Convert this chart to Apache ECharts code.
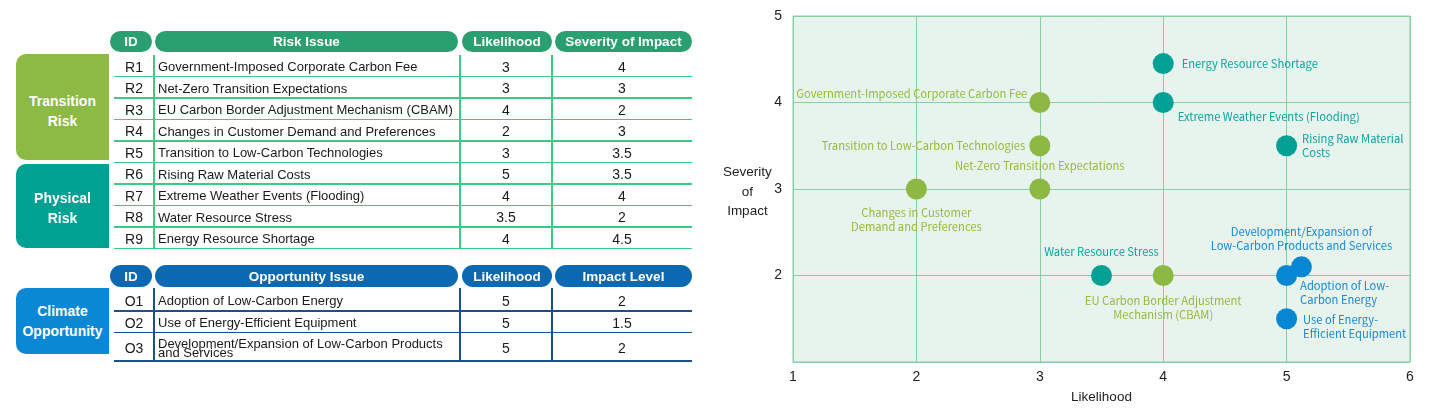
<!DOCTYPE html>
<html>
<head>
<meta charset="utf-8">
<script src="https://cdn.jsdelivr.net/npm/echarts@6/dist/echarts.min.js"></script>
<style>
  html, body { margin:0; padding:0; background:#fff; }
  #wrap { position:relative; width:1432px; height:418px; overflow:hidden; font-family:"Liberation Sans", Arial, sans-serif; }
  #chart { position:absolute; left:0; top:0; width:1432px; height:418px; }
  #table { position:absolute; left:0; top:0; width:720px; height:418px; }
  .abs { position:absolute; box-sizing:border-box; }
  .pill { color:#fff; font-weight:bold; font-size:13.5px; text-align:center; border-radius:11px; display:flex; align-items:center; justify-content:center; }
  .cat { color:#fff; font-weight:bold; font-size:14px; line-height:20px; text-align:center; border-radius:10px 0 0 10px; display:flex; align-items:center; justify-content:center; }
  .cell { color:#1a1a1a; display:flex; align-items:center; }
</style>
</head>
<body>
<div id="wrap">
  <div id="chart"></div>
  <div id="table"></div>
</div>
<script>
// ---------------- Table data ----------------
const riskHeaders = ['ID', 'Risk Issue', 'Likelihood', 'Severity of Impact'];
const riskIds = ['R1','R2','R3','R4','R5','R6','R7','R8','R9'];
const riskIssues = [
  'Government-Imposed Corporate Carbon Fee',
  'Net-Zero Transition Expectations',
  'EU Carbon Border Adjustment Mechanism (CBAM)',
  'Changes in Customer Demand and Preferences',
  'Transition to Low-Carbon Technologies',
  'Rising Raw Material Costs',
  'Extreme Weather Events (Flooding)',
  'Water Resource Stress',
  'Energy Resource Shortage'
];
const riskLikelihood = ['3','3','4','2','3','5','4','3.5','4'];
const riskSeverity = ['4','3','2','3','3.5','3.5','4','2','4.5'];
const riskGroups = ['Transition\nRisk', 'Physical\nRisk'];

const oppHeaders = ['ID', 'Opportunity Issue', 'Likelihood', 'Impact Level'];
const oppIds = ['O1','O2','O3'];
const oppIssues = [
  'Adoption of Low-Carbon Energy',
  'Use of Energy-Efficient Equipment',
  'Development/Expansion of Low-Carbon Products\nand Services'
];
const oppLikelihood = ['5','5','5'];
const oppImpact = ['2','1.5','2'];
const oppGroup = 'Climate\nOpportunity';

// ---------------- Chart data ----------------
const xTicks = [1,2,3,4,5,6];
const yTicks = [1,2,3,4,5];
const transitionNames = [
  'Government-Imposed Corporate Carbon Fee',
  'Net-Zero Transition Expectations',
  'EU Carbon Border Adjustment\nMechanism (CBAM)',
  'Changes in Customer\nDemand and Preferences',
  'Transition to Low-Carbon Technologies'
];
const transitionX = [3, 3, 4, 2, 3];
const transitionY = [4, 3, 2, 3, 3.5];
const physicalNames = [
  'Rising Raw Material\nCosts',
  'Extreme Weather Events (Flooding)',
  'Water Resource Stress',
  'Energy Resource Shortage'
];
const physicalX = [5, 4, 3.5, 4];
const physicalY = [3.5, 4, 2, 4.45];
const opportunityNames = [
  'Adoption of Low-\nCarbon Energy',
  'Use of Energy-\nEfficient Equipment',
  'Development/Expansion of\nLow-Carbon Products and Services'
];
const opportunityX = [5, 5, 5.12];
const opportunityY = [2, 1.5, 2.1];

// ---------------- Table rendering ----------------
const T = document.getElementById('table');
function div(cls, style, text) {
  const d = document.createElement('div');
  d.className = 'abs ' + cls;
  Object.assign(d.style, style);
  if (text !== undefined) d.innerText = text;
  T.appendChild(d);
  return d;
}
const colHead = [[110,152],[155,458],[462,552],[555,692]];
const colCell = [[114,154],[154,460],[460,552],[552,692]];
const GREEN_HEAD = '#2a9f70', GREEN_LINE = '#3ccb86';
const BLUE_HEAD = '#0b69b2', BLUE_LINE = '#1d4f8e';

function drawHeader(headers, top, h, color) {
  headers.forEach((t, i) => {
    div('pill', {left: colHead[i][0]+'px', top: top+'px', width:(colHead[i][1]-colHead[i][0])+'px', height:h+'px', background:color}, t);
  });
}
function drawRows(ids, issues, a, b, bounds, lineColor, issueLineHeight) {
  const top = bounds[0], bottom = bounds[bounds.length-1];
  for (let r = 1; r < bounds.length; r++) {
    div('', {left:'114px', top:(bounds[r]-0.75)+'px', width:(692-114)+'px', height:'1.5px', background:lineColor});
  }
  [154, 460, 552].forEach(x => {
    div('', {left:(x-0.75)+'px', top:top+'px', width:'1.5px', height:(bottom-top)+'px', background:lineColor});
  });
  for (let r = 0; r < ids.length; r++) {
    const y0 = bounds[r], h = bounds[r+1]-bounds[r];
    const vals = [ids[r], issues[r], a[r], b[r]];
    vals.forEach((v, i) => {
      const st = {left: colCell[i][0]+'px', top:(y0+1)+'px', width:(colCell[i][1]-colCell[i][0])+'px', height:h+'px'};
      if (i === 1) {
        st.paddingLeft = '4px'; st.fontSize = '13px';
        st.lineHeight = issueLineHeight(r);
      } else {
        st.justifyContent = 'center'; st.fontSize = '14px';
      }
      div('cell', st, v);
    });
  }
}
drawHeader(riskHeaders, 31, 21, GREEN_HEAD);
const riskBounds = [55, 76.5, 98, 119.5, 141, 162.5, 184, 205.5, 227, 248.5];
drawRows(riskIds, riskIssues, riskLikelihood, riskSeverity, riskBounds, GREEN_LINE, () => '15px');
div('cat', {left:'16px', top:'54px', width:'93px', height:'106px', background:'#8cba44', paddingTop:'8px'}, riskGroups[0]);
div('cat', {left:'16px', top:'164px', width:'93px', height:'84px', background:'#00a093', paddingTop:'4px'}, riskGroups[1]);
drawHeader(oppHeaders, 265, 22, BLUE_HEAD);
const oppBounds = [288, 311, 332.5, 361];
drawRows(oppIds, oppIssues, oppLikelihood, oppImpact, oppBounds, BLUE_LINE, r => r === 2 ? '9px' : '15px');
div('cat', {left:'16px', top:'288px', width:'93px', height:'66px', background:'#0a88d3'}, oppGroup);

// ---------------- Chart ----------------
const C_TRANS = '#8cb843', C_TRANS_LBL = '#9ab83c';
const C_PHYS = '#00a095', C_PHYS_LBL = '#0fa3a0';
const C_OPP = '#0787d3', C_OPP_LBL = '#1a88d6';
const lblFont = { fontFamily: '"Noto Sans CJK SC", "Noto Sans", sans-serif', fontSize: 11.2, lineHeight: 14 };

const transitionLabelStyle = [
  {position:'left', distance:2, offset:[0,-9]},
  {position:'top', distance:6},
  {position:'bottom', distance:8},
  {position:'bottom', distance:6},
  {position:'left', distance:4}
];
const physicalLabelStyle = [
  {position:'right', distance:5},
  {position:'right', distance:4, offset:[0,14]},
  {position:'top', distance:6},
  {position:'right', distance:8}
];
const opportunityLabelStyle = [
  {position:'right', distance:3, offset:[0,17]},
  {position:'right', distance:6, offset:[0,8]},
  {position:'top', distance:4}
];

function buildData(names, xs, ys, styles, color) {
  return names.map((n, i) => ({
    name: n,
    value: [xs[i], ys[i]],
    label: Object.assign({show:true, formatter:'{b}', color: color, align: styles[i].position === 'left' ? 'right' : (styles[i].position === 'right' ? 'left' : 'center')}, lblFont, styles[i])
  }));
}

const chart = echarts.init(document.getElementById('chart'), null, {renderer:'canvas'});
const gridColor = '#88cfa8';
chart.setOption({
  animation: false,
  grid: { left: 793, right: 22, top: 16, bottom: 56, show: true, backgroundColor: '#e7f4ee', borderColor: gridColor, borderWidth: 1 },
  xAxis: {
    type: 'value', min: xTicks[0], max: xTicks[xTicks.length-1], interval: 1,
    name: 'Likelihood', nameLocation: 'middle', nameGap: 28,
    nameTextStyle: { color:'#222', fontSize: 13.5, fontFamily: '"Liberation Sans", Arial, sans-serif' },
    axisLine: { show: true, lineStyle: { color: gridColor } },
    axisTick: { show: false },
    axisLabel: { color:'#222', fontSize: 14, margin: 8, fontFamily: '"Liberation Sans", Arial, sans-serif' },
    splitLine: { show: true, lineStyle: { color: gridColor, width: 1 } }
  },
  yAxis: {
    type: 'value', min: yTicks[0], max: yTicks[yTicks.length-1], interval: 1,
    axisLine: { show: true, lineStyle: { color: gridColor } },
    axisTick: { show: false },
    axisLabel: { color:'#222', fontSize: 14, margin: 11, fontFamily: '"Liberation Sans", Arial, sans-serif',
      formatter: v => v === yTicks[0] ? '' : String(v) },
    splitLine: { show: true, lineStyle: { color: gridColor, width: 1 } }
  },
  graphic: [{
    type: 'text', left: 723, top: 163,
    style: { text: 'Severity\nof\nImpact', align: 'center', fill: '#222', fontSize: 13.5, lineHeight: 19.5, fontFamily: '"Liberation Sans", Arial, sans-serif', textAlign:'center' }
  }],
  series: [
    { type:'scatter', symbolSize: 21, itemStyle:{color:C_TRANS, opacity:1}, data: buildData(transitionNames, transitionX, transitionY, transitionLabelStyle, C_TRANS_LBL) },
    { type:'scatter', symbolSize: 21, itemStyle:{color:C_PHYS, opacity:1}, data: buildData(physicalNames, physicalX, physicalY, physicalLabelStyle, C_PHYS_LBL) },
    { type:'scatter', symbolSize: 21, itemStyle:{color:C_OPP, opacity:1}, data: buildData(opportunityNames, opportunityX, opportunityY, opportunityLabelStyle, C_OPP_LBL) }
  ]
});
</script>
</body>
</html>
